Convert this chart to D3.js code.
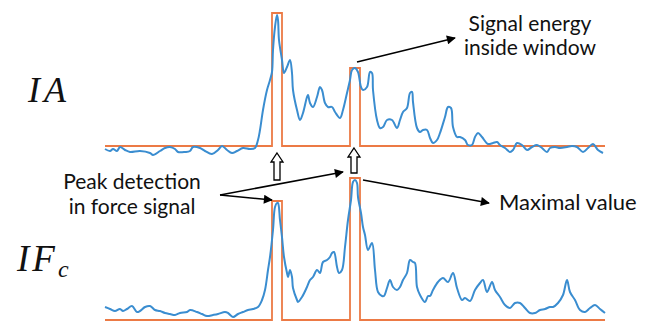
<!DOCTYPE html>
<html><head><meta charset="utf-8">
<script src="https://cdn.jsdelivr.net/npm/d3@7"></script>
<style>body{margin:0;background:#fff}svg{display:block}</style>
</head><body>
<svg id="c" width="646" height="321"></svg>
<script>
// ---- data (sample index, amplitude relative to baseline) ----
const topT = [0,5,8,12,15,20,25,35,45,48,55,60,65,70,73,80,85,88,95,100,107,113,117,122,127,132,138,145,150,153,155,158,162,165,167,168,170,172,173,174,177,179,182,185,187,188,192,195,198,202,203,205,208,212,215,217,220,223,227,230,235,238,242,245,247,250,253,256,258,262,265,267,268,272,275,278,282,287,292,295,298,302,305,307,308,312,315,318,322,325,328,332,335,340,343,346,348,352,355,360,363,367,370,373,377,383,388,392,395,400,405,408,412,417,422,427,432,437,442,445,450,455,462,467,472,478,483,488,493,498];
const topV = [-3,-5,-3,-5,-1,-4,-6,-5,-7,-9,-5,-2,-1,-3,-6,-6,-5,-1,-2,-5,-8,-4,0,-4,-7,-5,-2,-3,-2,6,16,36,56,66,74,96,119,131,126,106,86,73,79,86,73,56,36,26,33,49,51,43,39,49,59,56,43,39,39,34,28,36,53,66,76,78,74,59,56,59,74,73,56,26,18,19,26,26,18,26,34,38,53,54,44,18,14,16,16,8,3,6,13,29,39,38,19,9,9,6,1,1,9,13,9,2,3,4,1,-2,-6,-4,3,1,-4,-1,1,-2,-6,-2,-1,-2,-1,0,-1,-6,-2,2,-4,-7];
const botT = [0,5,10,15,18,22,27,32,35,40,45,50,55,60,65,70,75,82,85,92,97,102,108,113,120,123,128,133,138,143,148,153,157,160,163,165,168,170,172,173,175,177,179,182,183,185,187,188,192,193,197,202,205,208,212,215,218,222,225,227,229,232,234,237,240,243,246,248,250,252,253,256,258,260,263,267,270,273,277,279,282,285,288,292,295,298,302,305,308,310,312,315,320,323,325,328,333,338,343,348,352,357,360,365,370,375,378,382,387,390,395,400,405,410,415,420,425,430,435,440,445,448,453,458,462,465,470,475,480,485,490,495,500];
const botV = [13,11,9,11,9,11,14,8,9,13,14,10,9,7,6,5,7,8,10,8,6,4,5,6,8,7,3,6,8,10,11,13,20,30,50,63,90,113,117,117,100,83,63,47,43,50,43,32,20,18,23,33,40,43,50,47,58,60,63,67,68,53,47,50,73,100,120,138,140,137,123,107,93,85,70,77,50,28,24,24,32,40,33,30,33,40,47,60,58,57,33,25,18,24,24,30,38,42,38,47,32,20,22,19,30,37,40,28,38,30,23,15,12,17,17,12,7,7,10,11,13,13,17,25,40,28,20,10,8,12,15,11,7];
const windowStart = [167, 245];
const windowEnd = [177, 255];
const topWindowLevel = [133, 78];
const botWindowLevel = [119, 142];
const notes = ["Signal energy", "inside window", "Peak detection", "in force signal", "Maximal value"];

const svg = d3.select("#c");
const x = d3.scaleLinear().domain([0, 500]).range([105, 605]);
const yTop = d3.scaleLinear().domain([0, 133]).range([146, 13]);
const yBot = d3.scaleLinear().domain([0, 142]).range([320, 178]);

const blue = "#3a8dd0", orange = "#ec7a45";

function windowPath(levels){
  const pts = [[0,0]];
  windowStart.forEach((s,i)=>{
    pts.push([s,0],[s,levels[i]],[windowEnd[i],levels[i]],[windowEnd[i],0]);
  });
  pts.push([500,0]);
  return pts;
}

function panel(T, V, levels, y){
  svg.append("path").datum(windowPath(levels))
    .attr("d", d3.line().x(d=>x(d[0])).y(d=>y(d[1])))
    .attr("fill","none").attr("stroke",orange).attr("stroke-width",1.8);
  svg.append("path").datum(T.map((t,i)=>[t,V[i]]))
    .attr("d", d3.line().x(d=>x(d[0])).y(d=>y(d[1])).curve(d3.curveCatmullRom.alpha(0.5)))
    .attr("fill","none").attr("stroke",blue).attr("stroke-width",2).attr("stroke-linejoin","round");
}
panel(topT, topV, topWindowLevel, yTop);
panel(botT, botV, botWindowLevel, yBot);

// arrow marker
svg.append("defs").append("marker").attr("id","ah")
  .attr("viewBox","0 0 10 10").attr("refX",9).attr("refY",5)
  .attr("markerWidth",11).attr("markerHeight",9).attr("markerUnits","userSpaceOnUse")
  .attr("orient","auto")
  .append("path").attr("d","M0,0L10,5L0,10Z").attr("fill","#000");

function arrow(x1,y1,x2,y2){
  svg.append("line").attr("x1",x1).attr("y1",y1).attr("x2",x2).attr("y2",y2)
    .attr("stroke","#000").attr("stroke-width",1.6).attr("marker-end","url(#ah)");
}
// signal energy arrow
arrow(x(252), yTop(84), 455, 38);
// peak detection arrows
arrow(220, 195, x(windowStart[0]), yBot(botWindowLevel[0]) - 1);
arrow(220, 195, x(windowStart[1]) - 7, yBot(botWindowLevel[1]) - 6);
// maximal value arrow
arrow(x(windowEnd[1]) + 3, yBot(botWindowLevel[1]) + 2, 489, 203);

// hollow up arrows
function hollow(cx, ytop, ybot){
  const hw = 6, sw = 3, hh = 9;
  svg.append("path").attr("d",
    `M${cx},${ytop}L${cx+hw},${ytop+hh}L${cx+sw},${ytop+hh}L${cx+sw},${ybot}L${cx-sw},${ybot}L${cx-sw},${ytop+hh}L${cx-hw},${ytop+hh}Z`)
    .attr("fill","#fff").attr("stroke","#000").attr("stroke-width",1.3);
}
hollow(x((windowStart[0]+windowEnd[0])/2), 153, 180);
hollow(x((windowStart[1]+windowEnd[1])/2) - 1, 148, 173);

// text
const sans = "Lato, 'Open Sans', sans-serif";
function txt(s, px, py, anchor, fs){
  svg.append("text").attr("x",px).attr("y",py).attr("text-anchor",anchor||"middle")
    .attr("font-family",sans).attr("font-size",fs||21).attr("fill","#111").text(s);
}
txt(notes[0], 530, 31);
txt(notes[1], 530, 55);
txt(notes[2], 132, 189);
txt(notes[3], 132, 214);
txt(notes[4], 499, 210, "start", 22);

const serif = "'Liberation Serif', 'DejaVu Serif', serif";
svg.append("text").attr("x",28).attr("y",102).attr("font-family",serif)
  .attr("font-style","italic").attr("font-size",36).attr("letter-spacing",4).attr("fill","#111").text("IA");
const t2 = svg.append("text").attr("x",17).attr("y",271).attr("font-family",serif)
  .attr("font-style","italic").attr("font-size",37).attr("letter-spacing",3).attr("fill","#111");
t2.append("tspan").text("IF");
t2.append("tspan").attr("dy",6).attr("font-size",24).attr("letter-spacing",0).text("c");
</script>
</body></html>
